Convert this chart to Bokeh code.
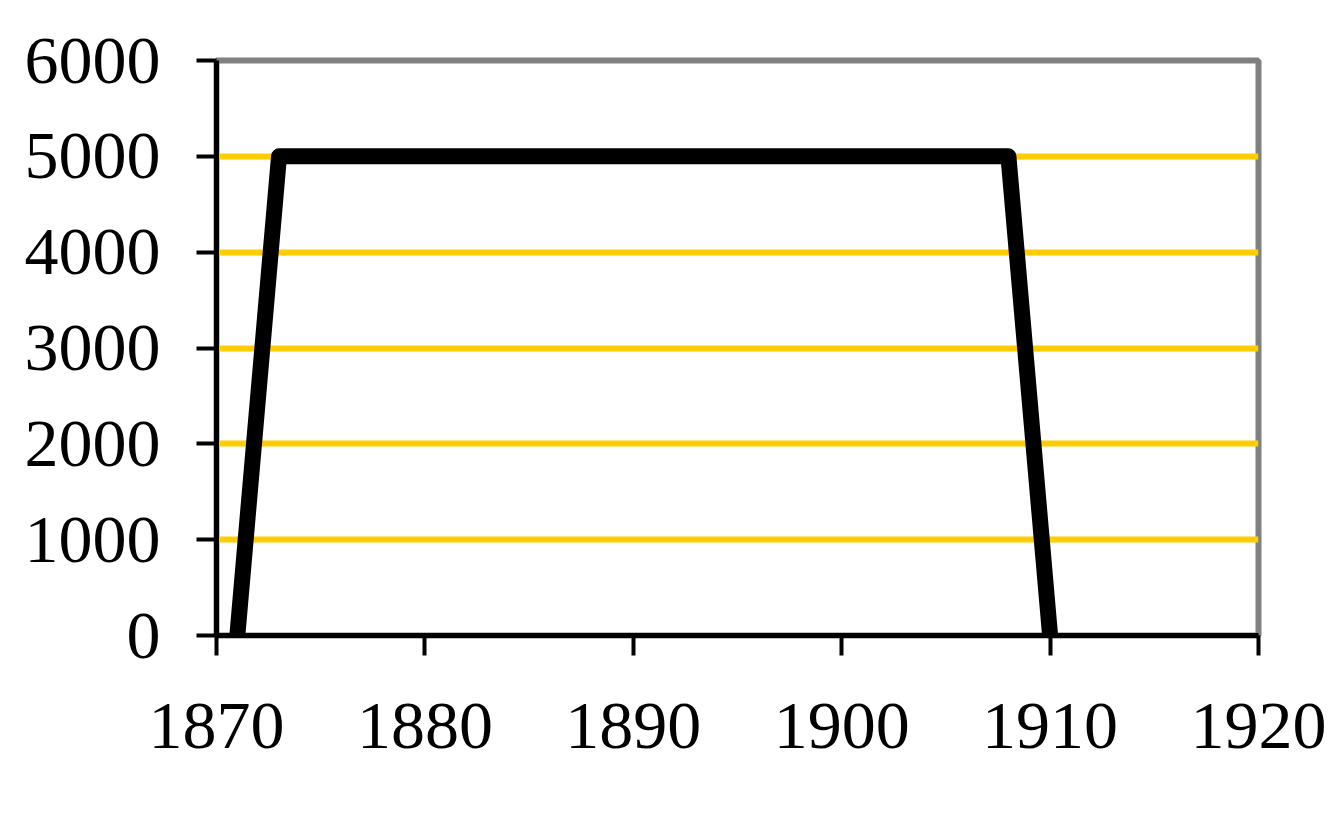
from bokeh.plotting import figure
from bokeh.models import Range1d, FixedTicker
from bokeh.embed import file_html
from bokeh.resources import INLINE

years = [1871, 1873, 1908, 1910]
values = [0, 5000, 5000, 0]
x_ticks = [1870, 1880, 1890, 1900, 1910, 1920]
y_ticks = [0, 1000, 2000, 3000, 4000, 5000, 6000]
grid_ticks = [1000, 2000, 3000, 4000, 5000]

p = figure(width=1328, height=820, output_backend="svg", toolbar_location=None,
           x_range=Range1d(1870, 1920), y_range=Range1d(0, 6000),
           min_border_left=216, min_border_right=70, min_border_top=60, min_border_bottom=185,
           frame_width=1042, frame_height=575)
p.background_fill_color = "white"
p.border_fill_color = "white"
p.outline_line_color = "#808080"
p.outline_line_width = 6

p.xgrid.visible = False
p.ygrid.ticker = FixedTicker(ticks=grid_ticks)
p.ygrid.grid_line_color = "#FFCC00"
p.ygrid.grid_line_width = 6

for ax in (p.xaxis[0], p.yaxis[0]):
    ax.axis_line_color = "black"
    ax.axis_line_width = 5
    ax.major_tick_line_color = "black"
    ax.major_tick_line_width = 4
    ax.major_tick_out = 20
    ax.major_tick_in = 0
    ax.minor_tick_line_color = None
    ax.major_label_text_font = "Liberation Serif"
    ax.major_label_text_font_size = "68px"
    ax.major_label_text_color = "black"

p.xaxis[0].ticker = FixedTicker(ticks=x_ticks)
p.yaxis[0].ticker = FixedTicker(ticks=y_ticks)
p.xaxis[0].major_label_standoff = 48
p.yaxis[0].major_label_standoff = 36

p.line(years, values, line_width=16, line_color="black", line_join="round", line_cap="round")

open("out.html", "w").write(file_html(p, INLINE))
